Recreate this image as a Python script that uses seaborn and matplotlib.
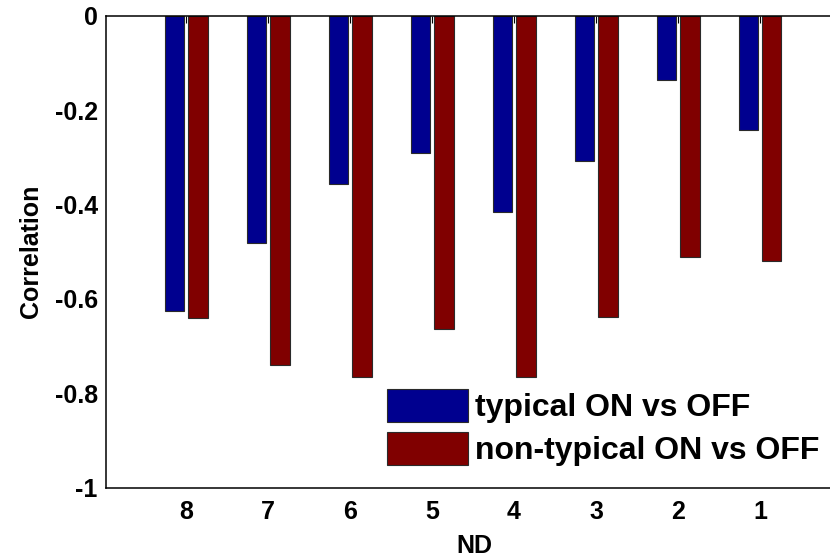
import numpy as np
import pandas as pd
import matplotlib
matplotlib.use("Agg")
import matplotlib.pyplot as plt
import seaborn as sns
from matplotlib.patches import Patch

# Correlation per ND level, two conditions
nd_labels = ["8", "7", "6", "5", "4", "3", "2", "1"]
typical = [-0.625, -0.481, -0.357, -0.290, -0.417, -0.307, -0.137, -0.243]
non_typical = [-0.641, -0.740, -0.766, -0.664, -0.766, -0.638, -0.511, -0.519]
series_names = ["typical ON vs OFF", "non-typical ON vs OFF"]
colors = ["#00008F", "#800000"]

df = pd.DataFrame({
    "ND": nd_labels * 2,
    "Correlation": typical + non_typical,
    "series": [series_names[0]] * len(nd_labels) + [series_names[1]] * len(nd_labels),
})

sns.set_style("white")
plt.rcParams["font.family"] = ["Liberation Sans", "DejaVu Sans"]
plt.rcParams["font.weight"] = "bold"
plt.rcParams["axes.labelweight"] = "bold"
plt.rcParams["text.color"] = "black"
plt.rcParams["axes.labelcolor"] = "black"
plt.rcParams["xtick.color"] = "black"
plt.rcParams["ytick.color"] = "black"

W, H = 830, 557
fig = plt.figure(figsize=(W / 100, H / 100), dpi=100)
ax = fig.add_axes([106 / W, 1 - 487.5 / H, (842 - 106) / W, (487.5 - 15.7) / H])

edge = "#2a2a2a"
sns.barplot(
    data=df, x="ND", y="Correlation", hue="series",
    order=nd_labels, hue_order=series_names, palette=colors,
    width=0.573, gap=0.17, saturation=1, errorbar=None,
    edgecolor=edge, linewidth=0.8, legend=False, ax=ax,
)

ax.set_ylim(-1, 0)
ax.set_xlim(-0.976, 8.0)
yt = np.linspace(-1, 0, 6)
ax.set_yticks(yt)
ax.set_yticklabels([f"{np.round(v, 1) + 0.0:g}" for v in yt])

ax.tick_params(axis="both", direction="in", length=5, width=0.8,
               top=True, right=True, labelsize=18)
ax.tick_params(axis="x", pad=9)
ax.tick_params(axis="y", pad=6)

for s in ax.spines.values():
    s.set_color("black")
    s.set_linewidth(1.1)

ax.set_xlabel("ND", fontsize=18, labelpad=7)
ax.set_ylabel("Correlation", fontsize=18, labelpad=8)

handles = [Patch(facecolor=c, edgecolor=edge, linewidth=0.8) for c in colors]
fig.legend(handles, series_names, loc="upper left",
           bbox_to_anchor=(387 / W, 1 - 389 / H), bbox_transform=fig.transFigure,
           frameon=False, fontsize=23, handlelength=2.55, handleheight=1.2,
           handletextpad=0.22, labelspacing=0.28, borderpad=0, borderaxespad=0)

fig.savefig("out.png", dpi=100)
